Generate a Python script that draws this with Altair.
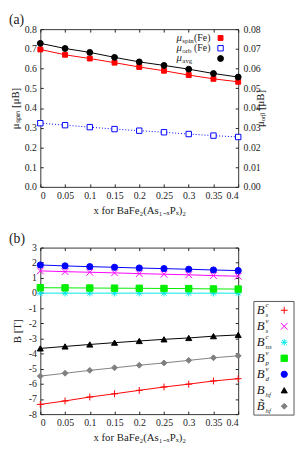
import altair as alt
import pandas as pd

FONT = "Liberation Serif"

# ---------------- data ----------------
x_vals = [0, 0.05, 0.1, 0.15, 0.2, 0.25, 0.3, 0.35, 0.4]

mu_spin = [0.697, 0.670, 0.651, 0.630, 0.608, 0.589, 0.567, 0.548, 0.533]
mu_orb = [0.0323, 0.0313, 0.0303, 0.0293, 0.0285, 0.0277, 0.0268, 0.0260, 0.0253]
mu_avg = [0.728, 0.702, 0.682, 0.657, 0.634, 0.616, 0.597, 0.575, 0.557]

B_s_c = [-7.36, -7.13, -6.87, -6.66, -6.43, -6.21, -6.02, -5.81, -5.66]
B_s_v = [1.46, 1.41, 1.37, 1.33, 1.28, 1.24, 1.20, 1.15, 1.11]
B_ns_c = [-0.01, -0.01, -0.01, -0.01, -0.01, -0.01, -0.01, -0.01, -0.01]
B_p_v = [0.35, 0.34, 0.33, 0.32, 0.31, 0.30, 0.29, 0.27, 0.26]
B_d_v = [1.85, 1.79, 1.74, 1.70, 1.65, 1.61, 1.57, 1.52, 1.48]
B_hf = [-3.66, -3.53, -3.40, -3.28, -3.17, -3.06, -2.97, -2.85, -2.77]
B_hf_tilde = [-5.49, -5.30, -5.11, -4.94, -4.77, -4.62, -4.45, -4.28, -4.15]

x_ticks = [0, 0.05, 0.1, 0.15, 0.2, 0.25, 0.3, 0.35, 0.4]
spin_ticks = [0.0, 0.1, 0.2, 0.3, 0.4, 0.5, 0.6, 0.7, 0.8]
orb_ticks = [0.0, 0.01, 0.02, 0.03, 0.04, 0.05, 0.06, 0.07, 0.08]
b_ticks = [3, 2, 1, 0, -1, -2, -3, -4, -5, -6, -7, -8]
panel_labels = ["(a)", "(b)"]

series_a = ["spin", "orb", "avg"]
leg_a_sub = ["spin", "orb", "avg"]
leg_a_tail = ["(Fe)", "(Fe)", ""]
colors_a = ["#ff0000", "#0000ff", "#000000"]
fills_a = ["#ff0000", "#ffffff", "#000000"]
shapes_a = ["square", "square", "circle"]
sizes_a = [25, 36, 56]

series_b = ["Bsc", "Bsv", "Bnsc", "Bpv", "Bdv", "Bhf", "Bthf"]
values_b = [B_s_c, B_s_v, B_ns_c, B_p_v, B_d_v, B_hf, B_hf_tilde]
colors_b = ["#ff0000", "#ff00ff", "#00e8e8", "#00ee00", "#0000ff", "#000000", "#808080"]
PLUS = "M-1,0H1M0,-1V1"
CROSS = "M-1,-1L1,1M-1,1L1,-1"
STAR = "M-1,0H1M0,-1V1M-0.75,-0.75L0.75,0.75M-0.75,0.75L0.75,-0.75"
shapes_b = [PLUS, CROSS, STAR, "square", "circle", "triangle-up", "diamond"]
sizes_b = [49, 36, 42, 36, 42, 36, 28]
leg_base = ["B", "B", "B", "B", "B", "B", "B̃"]
leg_sub = ["s", "s", "ns", "p", "d", "hf", "hf"]
leg_sup = ["c", "v", "c", "v", "v", "", ""]

# ---------------- tables ----------------
rows = []
for i, xv in enumerate(x_vals):
    rows.append({"x": xv, "series": "spin", "left": mu_spin[i]})
    rows.append({"x": xv, "series": "avg", "left": mu_avg[i]})
df_left = pd.DataFrame(rows)
df_orb = pd.DataFrame({"x": x_vals, "series": "orb", "orb": mu_orb})
df_leg_a = pd.DataFrame({"series": series_a, "sub": leg_a_sub, "tail": leg_a_tail})

rows = []
for s, vals in zip(series_b, values_b):
    for xv, v in zip(x_vals, vals):
        rows.append({"x": xv, "series": s, "B": v})
df_b = pd.DataFrame(rows)
df_leg_b = pd.DataFrame({"series": series_b, "base": leg_base, "sub": leg_sub, "sup": leg_sup})
df_box = pd.DataFrame({"box": [1]})
df_lab_a = pd.DataFrame({"label": [panel_labels[0]]})
df_lab_b = pd.DataFrame({"label": [panel_labels[1]]})

# ---------------- helpers ----------------
TS = 3
W = 202
common_axis = dict(domain=False, grid=False, tickSize=TS, offset=-TS, tickColor="#222", minExtent=0,
                   labelFont=FONT, labelFontSize=10, labelColor="#222",
                   titleFont=FONT, titleFontSize=11, titleFontWeight="normal", titleColor="#222")
xscale = alt.Scale(domain=[0, 0.4], nice=False, zero=False)
XTITLE = "x for BaFe₂(As₁₋ₓPₓ)₂"

def x_bottom():
    return alt.X("x:Q", scale=xscale,
                 axis=alt.Axis(orient="bottom", values=x_ticks, format="~g", title=XTITLE,
                               labelPadding=4, titlePadding=4, **common_axis))

def x_top():
    return alt.X("x:Q", scale=xscale,
                 axis=alt.Axis(orient="top", values=x_ticks, labels=False, title=None, **common_axis))

def panel_label(df):
    return alt.Chart(df).mark_text(font=FONT, fontSize=14, align="left", baseline="middle",
                                   color="#222").encode(
        x=alt.value(-32), y=alt.value(-9), text="label:N")

# ---------------- panel (a) ----------------
ya_left = alt.Y("left:Q", scale=alt.Scale(domain=[0, 0.8], nice=False),
                axis=alt.Axis(orient="left", values=spin_ticks, format=".1f", title="μₛₚᵢₙ [μB]",
                              labelPadding=4, titlePadding=4, **common_axis))
ya_right = alt.Y("orb:Q", scale=alt.Scale(domain=[0, 0.08], nice=False),
                 axis=alt.Axis(orient="right", values=orb_ticks, format=".2f", title="μₒᵣᵦ [μB]",
                               titleAngle=270, labelPadding=5, titlePadding=5, **common_axis))

def enc_a():
    return dict(
        stroke=alt.Stroke("series:N", scale=alt.Scale(domain=series_a, range=colors_a), legend=None),
        fill=alt.Fill("series:N", scale=alt.Scale(domain=series_a, range=fills_a), legend=None),
        shape=alt.Shape("series:N", scale=alt.Scale(domain=series_a, range=shapes_a), legend=None),
        size=alt.Size("series:N", scale=alt.Scale(domain=series_a, range=sizes_a), legend=None),
    )

left = alt.layer(
    alt.Chart(df_left).mark_line(strokeWidth=1).encode(
        x=x_bottom(), y=ya_left,
        color=alt.Color("series:N", scale=alt.Scale(domain=series_a, range=colors_a), legend=None)),
    alt.Chart(df_left).mark_point(opacity=1, strokeWidth=1).encode(x=x_bottom(), y=ya_left, **enc_a()),
)
right = alt.layer(
    alt.Chart(df_orb).mark_line(strokeWidth=1, strokeDash=[1, 2], color="#0000ff").encode(x=x_top(), y=ya_right),
    alt.Chart(df_orb).mark_point(opacity=1, strokeWidth=1).encode(x=x_top(), y=ya_right, **enc_a()),
)
leg_a_y = alt.Y("series:N", scale=alt.Scale(type="point", domain=series_a, range=[9, 30], padding=0),
                axis=None)
legend_a = alt.layer(
    alt.Chart(df_leg_a).mark_text(font=FONT, fontSize=11, fontStyle="italic", align="left", color="#222").encode(
        x=alt.value(139), y=leg_a_y, text=alt.value("μ")),
    alt.Chart(df_leg_a).mark_text(font=FONT, fontSize=7, align="left", dy=3, color="#222").encode(
        x=alt.value(145), y=leg_a_y, text="sub:N"),
    alt.Chart(df_leg_a).mark_text(font=FONT, fontSize=10, align="left", color="#222").encode(
        x=alt.value(157), y=leg_a_y, text="tail:N"),
    alt.Chart(df_leg_a).mark_point(opacity=1, strokeWidth=1).encode(x=alt.value(184), y=leg_a_y, **enc_a()),
    panel_label(df_lab_a),
)
panel_a = alt.layer(left, right, legend_a).resolve_scale(y="independent").resolve_axis(
    x="independent").properties(width=W, height=161)

# ---------------- panel (b) ----------------
yb_scale = alt.Scale(domain=[-8, 3], nice=False, zero=False)
yb_left = alt.Y("B:Q", scale=yb_scale,
                axis=alt.Axis(orient="left", values=b_ticks, labelExpr="'' + datum.value", title="B [T]",
                              labelPadding=4, titlePadding=6, **common_axis))
yb_right = alt.Y("B:Q", scale=yb_scale,
                 axis=alt.Axis(orient="right", values=b_ticks, labels=False, title=None, **common_axis))

def enc_b():
    return dict(
        stroke=alt.Stroke("series:N", scale=alt.Scale(domain=series_b, range=colors_b), legend=None),
        fill=alt.Fill("series:N", scale=alt.Scale(domain=series_b, range=colors_b), legend=None),
        shape=alt.Shape("series:N", scale=alt.Scale(domain=series_b, range=shapes_b), legend=None),
        size=alt.Size("series:N", scale=alt.Scale(domain=series_b, range=sizes_b), legend=None),
    )

panel_b = alt.layer(
    alt.Chart(df_b).mark_line(strokeWidth=1).encode(
        x=x_bottom(), y=yb_left,
        color=alt.Color("series:N", scale=alt.Scale(domain=series_b, range=colors_b), legend=None)),
    alt.Chart(df_b).mark_point(opacity=1, strokeWidth=1).encode(x=x_top(), y=yb_right, **enc_b()),
    panel_label(df_lab_b),
).resolve_axis(x="independent", y="independent").properties(width=W, height=170)

# custom legend box for panel (b)
leg_y = alt.Y("series:N", scale=alt.Scale(type="point", domain=series_b, range=[64, 162], padding=0),
              axis=None)
legend_b = alt.layer(
    alt.Chart(df_box).mark_rect(fillOpacity=0, stroke="#555", strokeWidth=1).encode(
        x=alt.value(0), x2=alt.value(41), y=alt.value(55), y2=alt.value(171)),
    alt.Chart(df_leg_b).mark_text(font=FONT, fontSize=13, fontStyle="italic", align="center", color="#222").encode(
        x=alt.value(7), y=leg_y, text="base:N"),
    alt.Chart(df_leg_b).mark_text(font=FONT, fontSize=7, fontStyle="italic", align="left", dy=-5, color="#222").encode(
        x=alt.value(12), y=leg_y, text="sup:N"),
    alt.Chart(df_leg_b).mark_text(font=FONT, fontSize=7, fontStyle="italic", align="left", dy=5, color="#222").encode(
        x=alt.value(12), y=leg_y, text="sub:N"),
    alt.Chart(df_leg_b).mark_point(opacity=1, strokeWidth=1).encode(x=alt.value(31), y=leg_y, **enc_b()),
).properties(width=41, height=170, view=alt.ViewBackground(stroke="transparent"))

row_b = alt.hconcat(panel_b, legend_b, spacing=9)

chart = alt.vconcat(panel_a, row_b, spacing=15).resolve_scale(
    color="independent", stroke="independent", fill="independent", shape="independent", size="independent"
).properties(
    padding={"left": 0, "top": 0, "right": 0, "bottom": 0}
).configure_view(stroke="#333", strokeWidth=1)

chart.save("out.html", embed_options={"renderer": "svg", "actions": False})
